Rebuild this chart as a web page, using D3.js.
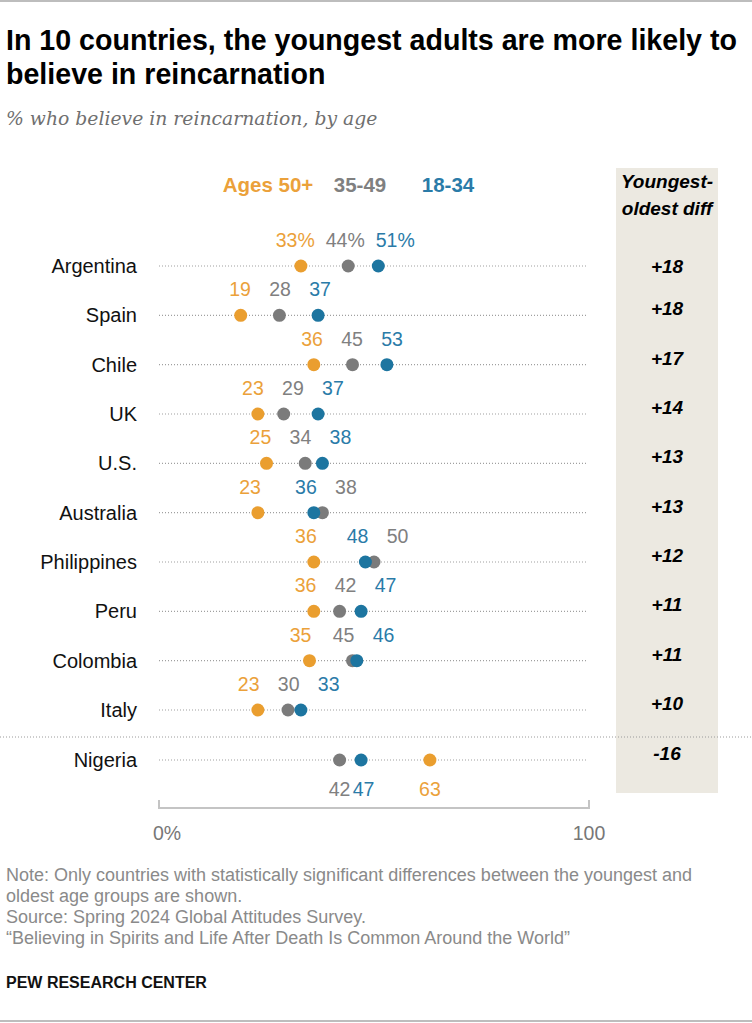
<!DOCTYPE html>
<html>
<head>
<meta charset="utf-8">
<script src="https://cdn.jsdelivr.net/npm/d3@7"></script>
<style>
  body { margin: 0; background: #fff; }
  svg { display: block; }
</style>
</head>
<body>
<div id="chart"></div>
<script>
// data
const countries = ["Argentina", "Spain", "Chile", "UK", "U.S.", "Australia", "Philippines", "Peru", "Colombia", "Italy", "Nigeria"];
const ages50plus = [33, 19, 36, 23, 25, 23, 36, 36, 35, 23, 63];
const ages35to49 = [44, 28, 45, 29, 34, 38, 50, 42, 45, 30, 42];
const ages18to34 = [51, 37, 53, 37, 38, 36, 48, 47, 46, 33, 47];
const diffs = ["+18", "+18", "+17", "+14", "+13", "+13", "+12", "+11", "+11", "+10", "-16"];
const groups = ["Ages 50+", "35-49", "18-34"];
const xTicks = [0, 100];

const W = 752, H = 1023;
const font = "'Liberation Sans', Arial, sans-serif";
const dotColor = {"Ages 50+": "#EA9E2F", "35-49": "#7B7B7B", "18-34": "#1D75A0"};
const textColor = {"Ages 50+": "#EBA13A", "35-49": "#808080", "18-34": "#2A7BA8"};

const svg = d3.select("#chart")
    .append("svg")
    .attr("width", W)
    .attr("height", H)
    .style("font-family", font);

// top and bottom rules
svg.append("line").attr("x1", 0).attr("x2", W).attr("y1", 1).attr("y2", 1)
    .attr("stroke", "#bdbdbd").attr("stroke-width", 2);
svg.append("line").attr("x1", 0).attr("x2", W).attr("y1", H - 2).attr("y2", H - 2)
    .attr("stroke", "#bdbdbd").attr("stroke-width", 2);

// title + subtitle
const title = ["In 10 countries, the youngest adults are more likely to", "believe in reincarnation"];
svg.append("g").selectAll("text")
    .data(title)
    .enter().append("text")
    .attr("x", 6)
    .attr("y", (d, i) => 50 + i * 34)
    .attr("font-size", 28.6)
    .attr("font-weight", "bold")
    .attr("fill", "#000")
    .text(d => d);

svg.append("text")
    .attr("x", 6)
    .attr("y", 125)
    .attr("font-family", "'DejaVu Serif', Georgia, serif")
    .attr("font-style", "italic")
    .attr("font-size", 18.8)
    .attr("fill", "#6f6f6f")
    .text("% who believe in reincarnation, by age");

// scales
const x = d3.scaleLinear().domain([0, 100]).range([159, 589]);
const y = d3.scalePoint().domain(countries.slice(0, 10)).range([266, 710]);
const rowY = (c) => c === "Nigeria" ? 760 : y(c);

// diff column background
svg.append("rect")
    .attr("x", 616).attr("y", 168)
    .attr("width", 102).attr("height", 625)
    .attr("fill", "#ECE9E1");

svg.append("g").selectAll("text")
    .data(["Youngest-", "oldest diff"])
    .enter().append("text")
    .attr("x", 667)
    .attr("y", (d, i) => 188 + i * 27)
    .attr("text-anchor", "middle")
    .attr("font-size", 19)
    .attr("font-weight", "bold")
    .attr("font-style", "italic")
    .text(d => d);

// legend
const legendX = {"Ages 50+": 268, "35-49": 360, "18-34": 448};
svg.append("g").selectAll("text")
    .data(groups)
    .enter().append("text")
    .attr("x", d => legendX[d])
    .attr("y", 192)
    .attr("text-anchor", "middle")
    .attr("font-size", 20.5)
    .attr("font-weight", "bold")
    .attr("fill", d => textColor[d])
    .text(d => d);

// rows
const rows = countries.map((c, i) => ({
    country: c,
    diff: diffs[i],
    vals: [
        {g: "Ages 50+", v: ages50plus[i]},
        {g: "35-49", v: ages35to49[i]},
        {g: "18-34", v: ages18to34[i]}
    ]
}));

// separator above Nigeria
svg.append("line")
    .attr("x1", 0).attr("x2", W)
    .attr("y1", 737).attr("y2", 737)
    .attr("stroke", "#9a9a9a")
    .attr("stroke-width", 1)
    .attr("stroke-dasharray", "1,2");

const row = svg.append("g").selectAll("g")
    .data(rows)
    .enter().append("g")
    .attr("transform", d => `translate(0,${rowY(d.country)})`);

row.append("line")
    .attr("x1", x(0)).attr("x2", x(100) - 3)
    .attr("stroke", "#a0a0a0")
    .attr("stroke-width", 1.2)
    .attr("stroke-dasharray", "1,2");

row.append("text")
    .attr("x", 137)
    .attr("y", 7)
    .attr("text-anchor", "end")
    .attr("font-size", 20)
    .attr("fill", "#111")
    .text(d => d.country);

row.append("text")
    .attr("x", 667)
    .attr("y", (d, i) => i === 0 ? 7 : 0)
    .attr("text-anchor", "middle")
    .attr("font-size", 19)
    .attr("font-weight", "bold")
    .attr("font-style", "italic")
    .text(d => d.diff);

// dots: blue (youngest) drawn last so it sits on top
row.selectAll("circle")
    .data(d => d.vals)
    .enter().append("circle")
    .attr("cx", d => x(d.v))
    .attr("r", 6.5)
    .attr("fill", d => dotColor[d.g]);

// value labels, spread left-to-right so they don't collide
row.each(function(d, i) {
    const sorted = d.vals.slice().sort((a, b) => a.v - b.v);
    const below = d.country === "Nigeria";
    const gap = i === 0 ? 50 : (below ? 24 : 40);
    let prev = -Infinity;
    sorted.forEach(s => {
        let lx = x(s.v);
        if (lx < prev + gap) lx = prev + gap;
        s.lx = lx;
        prev = lx;
    });
    const shift = (sorted[0].lx + sorted[2].lx) / 2 - (x(sorted[0].v) + x(sorted[2].v)) / 2;
    d3.select(this).selectAll("text.val")
        .data(sorted)
        .enter().append("text")
        .attr("class", "val")
        .attr("x", s => s.lx - shift / 2)
        .attr("y", below ? 36 : -19)
        .attr("text-anchor", "middle")
        .attr("font-size", 19.5)
        .attr("fill", s => textColor[s.g])
        .text(s => i === 0 ? s.v + "%" : s.v);
});

// axis
const axis = svg.append("g").attr("transform", "translate(0,808)");
axis.append("path")
    .attr("d", `M${x(0)},-8V0H${x(100)}V-8`)
    .attr("fill", "none")
    .attr("stroke", "#c4c4c4")
    .attr("stroke-width", 2);
axis.selectAll("text")
    .data(xTicks)
    .enter().append("text")
    .attr("x", d => d === 0 ? x(d) - 6 : x(d))
    .attr("y", 32)
    .attr("text-anchor", d => d === 0 ? "start" : "middle")
    .attr("font-size", 19.5)
    .attr("fill", "#777")
    .text(d => d === 0 ? "0%" : d);

// footer
const notes = [
    "Note: Only countries with statistically significant differences between the youngest and",
    "oldest age groups are shown.",
    "Source: Spring 2024 Global Attitudes Survey.",
    "\u201cBelieving in Spirits and Life After Death Is Common Around the World\u201d"
];
svg.append("g").selectAll("text")
    .data(notes)
    .enter().append("text")
    .attr("x", 6)
    .attr("y", (d, i) => 881 + i * 21)
    .attr("font-size", 18)
    .attr("fill", "#8a8a8a")
    .text(d => d);

svg.append("text")
    .attr("x", 6)
    .attr("y", 988)
    .attr("font-size", 16)
    .attr("font-weight", "bold")
    .attr("fill", "#111")
    .text("PEW RESEARCH CENTER");
</script>
</body>
</html>
